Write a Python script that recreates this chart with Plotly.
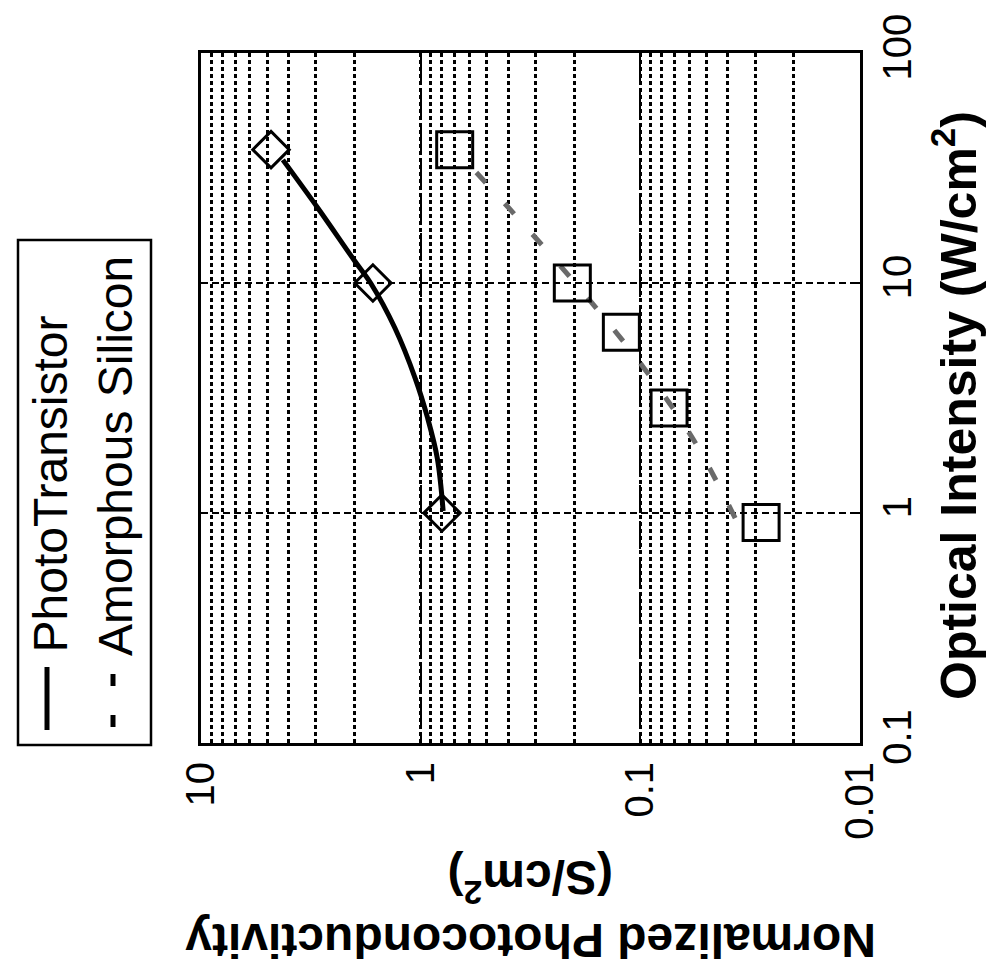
import plotly.graph_objects as go

# ---- data read off the (rotated) figure ----
# PhotoTransistor: measured points and fitted curve
pt_intensity = [1.0, 10.0, 38.0]
pt_conductivity = [0.80, 1.65, 4.8]
pt_fit_intensity = [1.02, 1.73, 2.59, 3.86, 6.37, 10.0, 12.5, 21.2, 34.3]
pt_fit_conductivity = [0.79, 0.84, 0.93, 1.06, 1.31, 1.69, 2.0, 2.94, 4.24]

# Amorphous Silicon: measured points and fitted curve
asi_intensity = [0.91, 2.86, 6.1, 10.0, 38.0]
asi_conductivity = [0.0282, 0.074, 0.122, 0.204, 0.70]
asi_fit_intensity = [0.95, 2.06, 4.19, 9.2, 18.6, 34.3]
asi_fit_conductivity = [0.037, 0.0569, 0.0949, 0.184, 0.351, 0.63]

cond_ticks = [10, 1, 0.1, 0.01]
cond_ticktext = ["10", "1", "0.1", "0.01"]
int_ticks = [0.1, 1, 10, 100]
int_ticktext = ["0.1", "1", "10", "100"]

legend_names = ["PhotoTransistor", "Amorphous Silicon"]

# ---- layout geometry (pixels) ----
W, H = 997, 971
X0, X1, Y0, Y1 = 193, 852, 45, 735
FONT = "Liberation Sans, Arial, sans-serif"


def px(x):
    return (x - X0) / (X1 - X0)


def py(y):
    return (Y1 - y) / (Y1 - Y0)


fig = go.Figure()

# fitted curves (plot is rotated: x = conductivity, y = intensity)
fig.add_trace(go.Scatter(
    x=pt_fit_conductivity, y=pt_fit_intensity, mode="lines",
    line=dict(color="black", width=5, shape="spline"), showlegend=False,
))
fig.add_trace(go.Scatter(
    x=asi_fit_conductivity, y=asi_fit_intensity, mode="lines",
    line=dict(color="#6a6a6a", width=5, dash="14px,28px", shape="spline"), showlegend=False,
))
fig.add_trace(go.Scatter(
    x=pt_conductivity, y=pt_intensity, mode="markers",
    marker=dict(symbol="diamond-open", size=28, color="black", line=dict(width=3, color="black")),
    showlegend=False,
))
fig.add_trace(go.Scatter(
    x=asi_conductivity, y=asi_intensity, mode="markers",
    marker=dict(symbol="square-open", size=36, color="black", line=dict(width=3, color="black")),
    showlegend=False,
))

fig.update_xaxes(
    type="log", range=[1, -2],
    tickmode="array", tickvals=cond_ticks, ticktext=cond_ticktext,
    tickangle=-90, tickfont=dict(family=FONT, size=40, color="black"),
    ticks="inside", ticklen=7, tickwidth=2, tickcolor="black",
    showline=True, linewidth=3, linecolor="black", mirror="ticks",
    showgrid=True, gridcolor="black", gridwidth=1.5, griddash="28px,8px",
    minor=dict(dtick="D1", showgrid=True, gridcolor="black", gridwidth=2.6,
               griddash="4px,3px", ticks="inside", ticklen=3, tickcolor="black"),
    ticklabelstandoff=0, zeroline=False,
)
fig.update_yaxes(
    type="log", range=[-1, 2], side="right",
    tickmode="array", tickvals=int_ticks, ticktext=int_ticktext,
    tickangle=-90, tickfont=dict(family=FONT, size=40, color="black"),
    ticks="inside", ticklen=7, tickwidth=2, tickcolor="black",
    showline=True, linewidth=3, linecolor="black", mirror="ticks",
    showgrid=True, gridcolor="black", gridwidth=2.4, griddash="7px,4px",
    ticklabelstandoff=0, zeroline=False,
)

# legend box and samples drawn by hand (text is rotated like the figure)
shapes = [
    dict(type="rect", xref="paper", yref="paper", x0=px(10), x1=px(143), y0=py(737), y1=py(232),
         line=dict(color="black", width=2.5)),
    dict(type="line", xref="paper", yref="paper", x0=px(39), x1=px(39), y0=py(722), y1=py(659),
         line=dict(color="black", width=5)),
    dict(type="line", xref="paper", yref="paper", x0=px(105), x1=px(105), y0=py(719), y1=py(707),
         line=dict(color="black", width=5)),
    dict(type="line", xref="paper", yref="paper", x0=px(105), x1=px(105), y0=py(678), y1=py(666),
         line=dict(color="black", width=5)),
]

annotations = [
    dict(text=legend_names[0], x=px(42), y=py(647), xref="paper", yref="paper",
         xanchor="center", yanchor="bottom", textangle=-90, showarrow=False,
         font=dict(family=FONT, size=48, color="black")),
    dict(text=legend_names[1], x=px(107), y=py(650), xref="paper", yref="paper",
         xanchor="center", yanchor="bottom", textangle=-90, showarrow=False,
         font=dict(family=FONT, size=48, color="black")),
    dict(text="<b>Optical Intensity (W/cm<sup>2</sup>)</b>", x=px(947), y=py(398),
         xref="paper", yref="paper", xanchor="center", yanchor="middle", textangle=-90,
         showarrow=False, font=dict(family=FONT, size=50, color="black")),
    dict(text="<b>(S/cm<sup>2</sup>)</b>", x=px(523), y=py(873), xref="paper", yref="paper",
         xanchor="center", yanchor="middle", textangle=180, showarrow=False,
         font=dict(family=FONT, size=48, color="black")),
    dict(text="<b>Normalized Photoconductivity</b>", x=px(523), y=py(933), xref="paper", yref="paper",
         xanchor="center", yanchor="middle", textangle=180, showarrow=False,
         font=dict(family=FONT, size=48, color="black")),
]

fig.update_layout(
    width=W, height=H,
    margin=dict(l=X0, r=W - X1, t=Y0, b=H - Y1, autoexpand=False),
    paper_bgcolor="white", plot_bgcolor="white",
    shapes=shapes, annotations=annotations, showlegend=False,
    font=dict(family=FONT, color="black"),
)

fig.write_html("out.html")
